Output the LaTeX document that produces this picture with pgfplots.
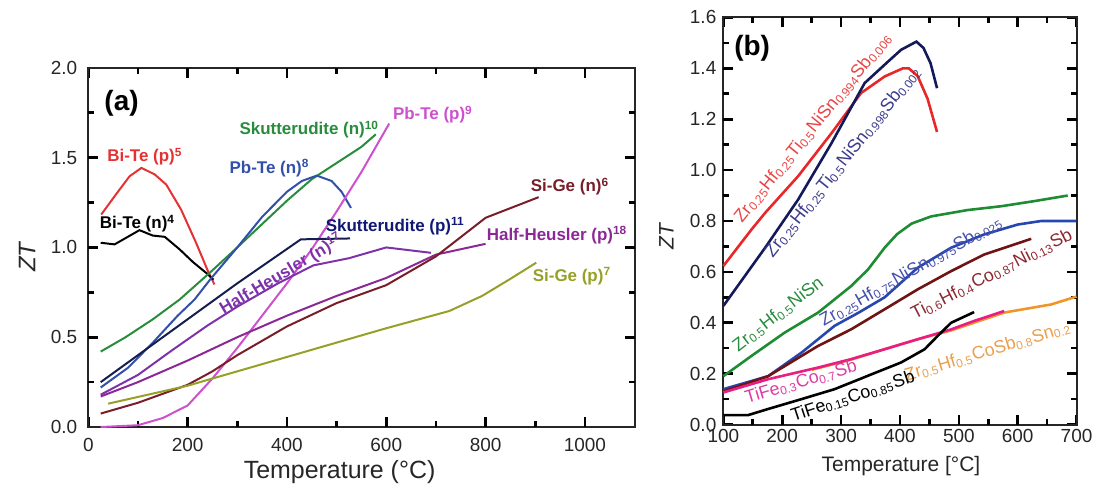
\documentclass[border=0pt]{standalone}
\usepackage{fontspec}
\setmainfont{Liberation Sans}
\usepackage{pgfplots}
\pgfplotsset{compat=1.18}

\definecolor{cRed}{RGB}{228,50,50}
\definecolor{cBlue}{RGB}{50,80,170}
\definecolor{cGreen}{RGB}{40,140,60}
\definecolor{cPink}{RGB}{205,80,205}
\definecolor{cNavy}{RGB}{20,30,80}
\definecolor{cPurple}{RGB}{125,50,170}
\definecolor{cPurple2}{RGB}{140,40,150}
\definecolor{cBrown}{RGB}{120,30,40}
\definecolor{cOlive}{RGB}{150,160,40}
\definecolor{bRed}{RGB}{232,40,40}
\definecolor{bNavy}{RGB}{20,25,90}
\definecolor{bGreen}{RGB}{30,140,50}
\definecolor{bBlue}{RGB}{40,70,175}
\definecolor{bBrown}{RGB}{110,20,20}
\definecolor{bPink}{RGB}{232,30,130}
\definecolor{bOrange}{RGB}{240,150,40}
\definecolor{lRed}{RGB}{232,70,70}
\definecolor{lNavy}{RGB}{60,60,140}
\definecolor{lGreen}{RGB}{40,140,60}
\definecolor{lBlue}{RGB}{70,80,170}
\definecolor{lBrown}{RGB}{140,40,50}
\definecolor{lPink}{RGB}{220,60,160}
\definecolor{lOrange}{RGB}{232,160,80}

\newcommand{\lab}{\fontsize{8.5}{10}\selectfont\bfseries}
\newcommand{\blab}{\fontsize{9}{10}\selectfont}
\newcommand{\sub}[1]{\textsubscript{#1}}

\tikzset{tk/.style={draw=black, line width=1.3pt}}

\pgfplotsset{
  myax/.style={
    scale only axis,
    axis line style={line width=1pt, black!85},
    tick align=inside,
    major tick length=5pt, minor tick length=3pt,
    every tick/.style={draw=black, line width=1.3pt},
    /pgf/number format/assume math mode=true,
    /pgf/number format/1000 sep={},
    tick label style={font=\fontsize{9.5}{11}\selectfont, text=black!85},
    clip=false,
  }
}

\begin{document}
\begin{tikzpicture}
% ---------------- panel (a) ----------------
\begin{axis}[myax,
  at={(44.25pt,29pt)}, anchor=south west,
  width=273.75pt, height=180pt,
  xmin=0, xmax=1100, ymin=0, ymax=2,
  xtick={0,200,400,600,800,1000},
  minor xtick={100,300,500,700,900},
  ytick={0,0.5,1,1.5,2},
  yticklabels={0.0,0.5,1.0,1.5,2.0},
  minor ytick={0.25,0.75,1.25,1.75},
  xticklabel style={yshift=-2pt},
  yticklabel style={xshift=-2pt},
  xlabel={Temperature (°C)},
  xlabel style={font=\fontsize{12.5}{14}\selectfont, at={(axis description cs:0.46,0)}, anchor=center, yshift=-22.5pt, text=black!85},
  ylabel={\textit{ZT}},
  ylabel style={font=\fontsize{12}{14}\selectfont, at={(axis description cs:-0.112,0.475)}, anchor=center, text=black!85},
  every axis plot/.append style={line width=1pt},
]
% tick marks (inside, all four sides)
\pgfplotsinvokeforeach{200,400,600,800,1000}{
  \draw[tk] (axis cs:#1,0) -- ([yshift=5pt]axis cs:#1,0);
  \draw[tk] (axis cs:#1,2) -- ([yshift=-5pt]axis cs:#1,2);
}
\pgfplotsinvokeforeach{100,300,500,700,900}{
  \draw[tk] (axis cs:#1,0) -- ([yshift=3pt]axis cs:#1,0);
  \draw[tk] (axis cs:#1,2) -- ([yshift=-3pt]axis cs:#1,2);
}
\pgfplotsinvokeforeach{0.5,1,1.5}{
  \draw[tk] (axis cs:0,#1) -- ([xshift=5pt]axis cs:0,#1);
  \draw[tk] (axis cs:1100,#1) -- ([xshift=-5pt]axis cs:1100,#1);
}
\pgfplotsinvokeforeach{0.25,0.75,1.25,1.75}{
  \draw[tk] (axis cs:0,#1) -- ([xshift=3pt]axis cs:0,#1);
  \draw[tk] (axis cs:1100,#1) -- ([xshift=-3pt]axis cs:1100,#1);
}
% Bi-Te (p)
\addplot[cRed] coordinates {(26,1.183)(57,1.30)(83,1.396)(107,1.443)(134,1.406)(157,1.35)(187,1.21)(217,1.026)(241,0.868)(254,0.794)};
% Bi-Te (n)
\addplot[black] coordinates {(25,1.026)(53,1.017)(103,1.096)(130,1.066)(154,1.059)(184,0.989)(211,0.918)(241,0.85)(252,0.82)};
% Skutterudite (n)
\addplot[cGreen] coordinates {(25,0.42)(75,0.50)(130,0.60)(184,0.71)(245,0.86)(300,1.0)(350,1.13)(400,1.26)(450,1.38)(500,1.47)(550,1.56)(579,1.63)};
% Pb-Te (n)
\addplot[cBlue] coordinates {(25,0.22)(80,0.33)(130,0.47)(180,0.62)(214,0.71)(245,0.82)(300,1.0)(350,1.17)(400,1.31)(430,1.37)(460,1.40)(490,1.37)(510,1.31)(529,1.22)};
% Pb-Te (p)
\addplot[cPink] coordinates {(25,0.0)(100,0.01)(150,0.05)(200,0.12)(250,0.27)(300,0.44)(350,0.62)(400,0.80)(450,0.99)(500,1.20)(550,1.42)(606,1.69)};
% Skutterudite (p)
\addplot[cNavy] coordinates {(25,0.25)(100,0.40)(200,0.60)(300,0.80)(428,1.045)(527,1.05)};
% Half-Heusler (n)
\addplot[cPurple] coordinates {(25,0.18)(100,0.29)(170,0.43)(241,0.567)(300,0.67)(382,0.80)(453,0.90)(525,0.94)(600,1.0)(690,0.97)};
% Half-Heusler (p)
\addplot[cPurple2] coordinates {(25,0.17)(100,0.25)(200,0.37)(300,0.50)(400,0.62)(500,0.73)(600,0.83)(700,0.96)(800,1.02)};
% Si-Ge (n)
\addplot[cBrown] coordinates {(25,0.075)(100,0.135)(200,0.235)(250,0.31)(300,0.40)(400,0.56)(500,0.69)(600,0.79)(700,0.95)(800,1.165)(907,1.28)};
% Si-Ge (p)
\addplot[cOlive] coordinates {(40,0.13)(200,0.23)(300,0.31)(400,0.39)(500,0.47)(600,0.55)(727,0.646)(793,0.73)(847,0.82)(902,0.915)};

\node[font=\fontsize{14}{16}\selectfont\bfseries] at (axis cs:67,1.80) {(a)};
\node[font=\lab, text=cRed] at (axis cs:114,1.506) {Bi-Te (p)\textsuperscript{5}};
\node[font=\lab, text=black] at (axis cs:99,1.133) {Bi-Te (n)\textsuperscript{4}};
\node[font=\lab, text=cBlue] at (axis cs:365,1.44) {Pb-Te (n)\textsuperscript{8}};
\node[font=\lab, text=cGreen] at (axis cs:445,1.656) {Skutterudite (n)\textsuperscript{10}};
\node[font=\lab, text=cPink] at (axis cs:694,1.739) {Pb-Te (p)\textsuperscript{9}};
\node[font=\lab, text=cNavy!80!blue] at (axis cs:618,1.117) {Skutterudite (p)\textsuperscript{11}};
\node[font=\lab, text=cPurple2] at (axis cs:944,1.067) {Half-Heusler (p)\textsuperscript{18}};
\node[font=\lab, text=cBrown] at (axis cs:970,1.339) {Si-Ge (n)\textsuperscript{6}};
\node[font=\lab, text=cOlive] at (axis cs:974,0.839) {Si-Ge (p)\textsuperscript{7}};
\node[font=\lab, text=cPurple, rotate=31] at (axis cs:389,0.85) {Half-Heusler (n)\textsuperscript{17}};
\end{axis}

% ---------------- panel (b) ----------------
\begin{axis}[myax,
  at={(362.5pt,30.25pt)}, anchor=south west,
  width=177pt, height=204pt,
  xmin=100, xmax=700, ymin=0, ymax=1.6,
  xtick={100,200,...,700},
  minor xtick={150,250,...,650},
  ytick={0,0.2,0.4,0.6,0.8,1.0,1.2,1.4,1.6},
  yticklabels={0.0,0.2,0.4,0.6,0.8,1.0,1.2,1.4,1.6},
  minor ytick={0.1,0.3,0.5,0.7,0.9,1.1,1.3,1.5},
  xticklabel style={yshift=1pt},
  xlabel={Temperature [°C]},
  xlabel style={font=\fontsize{10.5}{12}\selectfont, at={(axis description cs:0.503,0)}, anchor=center, yshift=-20.75pt, text=black!85},
  ylabel={\textit{ZT}},
  ylabel style={font=\fontsize{10.5}{12}\selectfont, at={(axis description cs:-0.161,0.464)}, anchor=center, text=black!85},
  every axis plot/.append style={line width=1.3pt},
]
\pgfplotsinvokeforeach{200,300,400,500,600}{
  \draw[tk] (axis cs:#1,0) -- ([yshift=5pt]axis cs:#1,0);
  \draw[tk] (axis cs:#1,1.6) -- ([yshift=-5pt]axis cs:#1,1.6);
}
\pgfplotsinvokeforeach{150,250,350,450,550,650}{
  \draw[tk] (axis cs:#1,0) -- ([yshift=3pt]axis cs:#1,0);
  \draw[tk] (axis cs:#1,1.6) -- ([yshift=-3pt]axis cs:#1,1.6);
}
\pgfplotsinvokeforeach{0.2,0.4,0.6,0.8,1.0,1.2,1.4}{
  \draw[tk] (axis cs:100,#1) -- ([xshift=5pt]axis cs:100,#1);
  \draw[tk] (axis cs:700,#1) -- ([xshift=-5pt]axis cs:700,#1);
}
\pgfplotsinvokeforeach{0.1,0.3,0.5,0.7,0.9,1.1,1.3,1.5}{
  \draw[tk] (axis cs:100,#1) -- ([xshift=3pt]axis cs:100,#1);
  \draw[tk] (axis cs:700,#1) -- ([xshift=-3pt]axis cs:700,#1);
}
\addplot[bRed] coordinates {(100,0.623)(148,0.767)(171,0.832)(227,0.976)(284,1.146)(334,1.303)(374,1.368)(405,1.40)(415,1.40)(430,1.37)(447,1.28)(463,1.15)};
\addplot[bNavy] coordinates {(100,0.466)(171,0.695)(227,0.884)(284,1.107)(340,1.342)(380,1.427)(402,1.473)(428,1.505)(440,1.48)(452,1.42)(463,1.322)};
\addplot[bGreen] coordinates {(100,0.19)(148,0.27)(204,0.361)(261,0.44)(317,0.544)(346,0.61)(374,0.695)(395,0.748)(420,0.79)(453,0.818)(515,0.843)(572,0.858)(628,0.878)(685,0.90)};
\addplot[bBlue] coordinates {(100,0.139)(176,0.19)(233,0.283)(289,0.388)(330,0.44)(374,0.50)(430,0.616)(487,0.695)(543,0.747)(600,0.786)(640,0.80)(700,0.80)};
\addplot[bBrown] coordinates {(100,0.13)(176,0.19)(261,0.309)(317,0.374)(374,0.453)(430,0.531)(487,0.603)(543,0.668)(623,0.73)};
\addplot[bOrange] coordinates {(250,0.215)(317,0.255)(374,0.296)(430,0.335)(487,0.37)(577,0.44)(657,0.472)(700,0.503)};
\addplot[bPink] coordinates {(100,0.126)(176,0.178)(261,0.224)(317,0.257)(374,0.296)(430,0.335)(487,0.374)(526,0.407)(577,0.446)};
\addplot[black] coordinates {(100,0.037)(142,0.037)(176,0.061)(233,0.10)(289,0.139)(346,0.192)(402,0.244)(442,0.296)(464,0.348)(487,0.40)(526,0.442)};

\node[font=\fontsize{14}{16}\selectfont\bfseries] at (axis cs:149,1.48) {(b)};
\node[font=\blab, text=lRed, rotate=51] at (axis cs:252,1.167) {Zr\sub{0.25}Hf\sub{0.25}Ti\sub{0.5}NiSn\sub{0.994}Sb\sub{0.006}};
\node[font=\blab, text=lNavy, rotate=51.5] at (axis cs:303,1.033) {Zr\sub{0.25}Hf\sub{0.25}Ti\sub{0.5}NiSn\sub{0.998}Sb\sub{0.002}};
\node[font=\blab, text=lGreen, rotate=38] at (axis cs:193,0.433) {Zr\sub{0.5}Hf\sub{0.5}NiSn};
\node[font=\blab, text=lBlue, rotate=29.5] at (axis cs:418.6,0.602) {Zr\sub{0.25}Hf\sub{0.75}NiSn\sub{0.975}Sb\sub{0.025}};
\node[font=\blab, text=lBrown, rotate=27] at (axis cs:556,0.59) {Ti\sub{0.6}Hf\sub{0.4}Co\sub{0.87}Ni\sub{0.13}Sb};
\node[font=\blab, text=lPink, rotate=16.5] at (axis cs:232,0.167) {TiFe\sub{0.3}Co\sub{0.7}Sb};
\node[font=\blab, text=lOrange, rotate=16.7] at (axis cs:549,0.288) {Zr\sub{0.5}Hf\sub{0.5}CoSb\sub{0.8}Sn\sub{0.2}};
\node[font=\blab, text=black, rotate=18] at (axis cs:320,0.11) {TiFe\sub{0.15}Co\sub{0.85}Sb};
\end{axis}
\path[use as bounding box] (0,0) rectangle (549.5pt,243pt);
\end{tikzpicture}
\end{document}
